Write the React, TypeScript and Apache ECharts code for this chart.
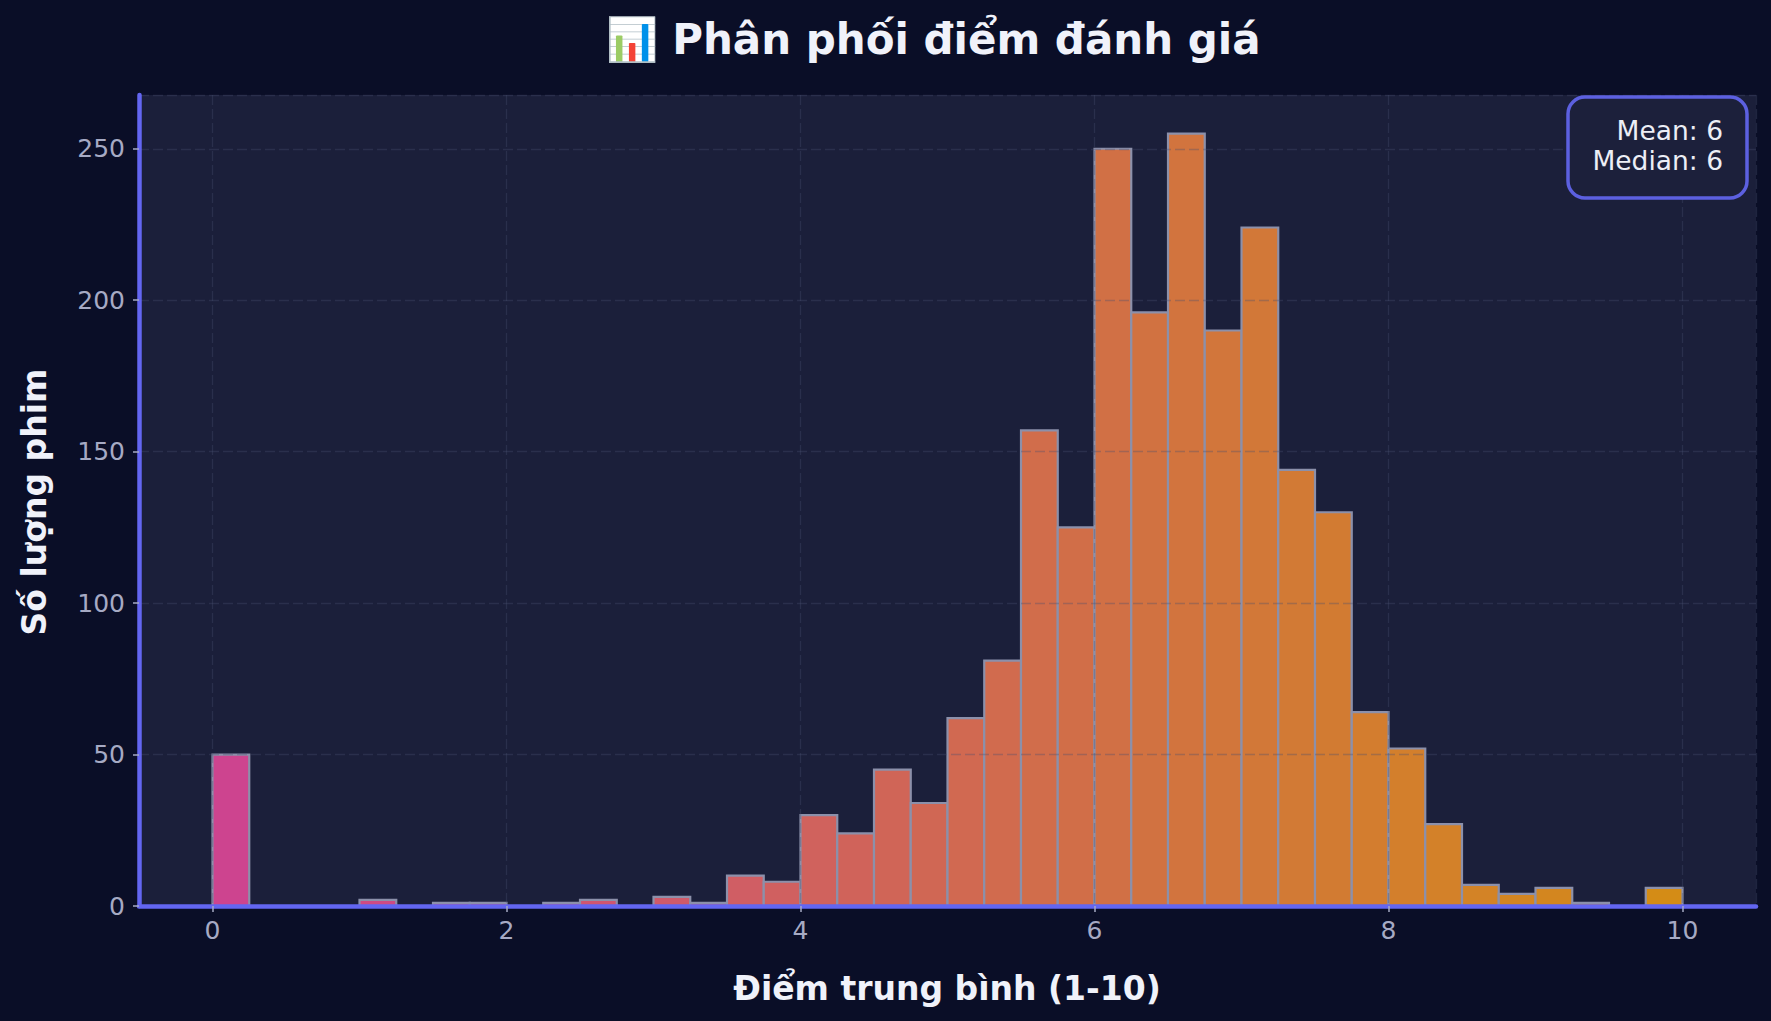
import React, { useEffect, useRef } from "react";
import * as echarts from "echarts";

// Histogram: 40 bins of width 0.25 from 0 to 10
const binStart = 0;
const binWidth = 0.25;
const counts = [
  50, 0, 0, 0, 2, 0, 1, 1, 0, 1,
  2, 0, 3, 1, 10, 8, 30, 24, 45, 34,
  62, 81, 157, 125, 250, 196, 255, 190, 224, 144,
  130, 64, 52, 27, 7, 4, 6, 1, 0, 6,
];
const xTickLabels = ["0", "2", "4", "6", "8", "10"];
const yTickLabels = ["0", "50", "100", "150", "200", "250"];
const titleText = "📊 Phân phối điểm đánh giá";
const xLabel = "Điểm trung bình (1-10)";
const yLabel = "Số lượng phim";
const meanValue = 6;
const medianValue = 6;

const startColor = [205, 68, 143];
const endColor = [212, 140, 22];

function barColor(i: number, n: number) {
  const t = n > 1 ? i / (n - 1) : 0;
  const c = startColor.map((s, k) => Math.round(s + (endColor[k] - s) * t));
  return `rgb(${c[0]},${c[1]},${c[2]})`;
}

export default function App() {
  const ref = useRef<HTMLDivElement>(null);
  useEffect(() => {
    if (!ref.current) return;
    const chart = echarts.init(ref.current, undefined, { renderer: "svg" });
    const data = counts.map((c, i) => [
      binStart + i * binWidth,
      binStart + (i + 1) * binWidth,
      c,
    ]);
    const colors = counts.map((_, i) => barColor(i, counts.length));
    const maxCount = Math.max(...counts);
    const font = "DejaVu Sans";
    const tickColor = "#a6aac4";
    const gridLine = {
      show: true,
      lineStyle: { color: "rgba(74,80,112,0.34)", width: 1.3, type: [10, 4] as any },
    };
    chart.setOption({
      animation: false,
      backgroundColor: "#0a0e27",
      grid: {
        left: 139,
        right: 15,
        top: 95,
        bottom: 115,
        show: true,
        backgroundColor: "#1b1f3a",
        borderWidth: 0,
      },
      xAxis: {
        type: "value",
        min: -0.5,
        max: 10.5,
        splitNumber: 5,
        z: 10,
        axisLine: { show: true, onZero: false, lineStyle: { color: "#6366f1", width: 4.5 } },
        axisTick: { show: true, length: 6, lineStyle: { color: tickColor, width: 1.5 } },
        axisLabel: {
          showMinLabel: false,
          showMaxLabel: false,
          color: tickColor,
          fontFamily: font,
          fontSize: 25,
          margin: 12,
          formatter: (v: number) => {
            const s = String(v);
            return xTickLabels.includes(s) ? s : "";
          },
        },
        splitLine: gridLine,
      },
      yAxis: {
        type: "value",
        min: 0,
        max: maxCount * 1.05,
        interval: 50,
        z: 10,
        axisLine: { show: true, onZero: false, lineStyle: { color: "#6366f1", width: 4.5 } },
        axisTick: { show: true, length: 6, lineStyle: { color: tickColor, width: 1.5 } },
        axisLabel: {
          showMaxLabel: false,
          color: tickColor,
          fontFamily: font,
          fontSize: 25,
          margin: 14,
          formatter: (v: number) => {
            const s = String(v);
            return yTickLabels.includes(s) ? s : "";
          },
        },
        splitLine: gridLine,
      },
      series: [
        {
          type: "custom",
          data,
          encode: { x: [0, 1], y: 2 },
          z: 2,
          renderItem: (params: any, api: any) => {
            const s = api.value(0);
            const e = api.value(1);
            const c = api.value(2);
            const p0 = api.coord([s, c]);
            const p1 = api.coord([e, 0]);
            return {
              type: "rect",
              shape: { x: p0[0], y: p0[1], width: p1[0] - p0[0], height: p1[1] - p0[1] },
              style: { fill: colors[params.dataIndex], stroke: "#8c90aa", lineWidth: 2.2 },
            };
          },
        },
      ],
      graphic: [
        {
          type: "text",
          x: 933,
          y: 39,
          style: {
            text: titleText,
            fill: "#f0f2fa",
            font: `bold 42px "${font}"`,
            align: "center",
            verticalAlign: "middle",
          },
        },
        {
          type: "text",
          x: 947,
          y: 988,
          style: {
            text: xLabel,
            fill: "#f0f2fa",
            font: `bold 33px "${font}"`,
            align: "center",
            verticalAlign: "middle",
          },
        },
        {
          type: "text",
          x: 34,
          y: 502,
          rotation: Math.PI / 2,
          style: {
            text: yLabel,
            fill: "#f0f2fa",
            font: `bold 33px "${font}"`,
            align: "center",
            verticalAlign: "middle",
          },
        },
        {
          type: "rect",
          z: 20,
          shape: { x: 1568, y: 97, width: 179, height: 101, r: 17 },
          style: { fill: "#1c203b", stroke: "#5c60e0", lineWidth: 3.5 },
        },
        {
          type: "text",
          z: 21,
          x: 1723,
          y: 130,
          style: {
            text: `Mean: ${meanValue}`,
            fill: "#eceef6",
            font: `26.5px "${font}"`,
            align: "right",
            verticalAlign: "middle",
          },
        },
        {
          type: "text",
          z: 21,
          x: 1723,
          y: 160,
          style: {
            text: `Median: ${medianValue}`,
            fill: "#eceef6",
            font: `26.5px "${font}"`,
            align: "right",
            verticalAlign: "middle",
          },
        },
      ],
    });
    return () => chart.dispose();
  }, []);
  return (
    <div
      ref={ref}
      style={{ position: "fixed", left: 0, top: 0, width: 1771, height: 1021 }}
    />
  );
}
